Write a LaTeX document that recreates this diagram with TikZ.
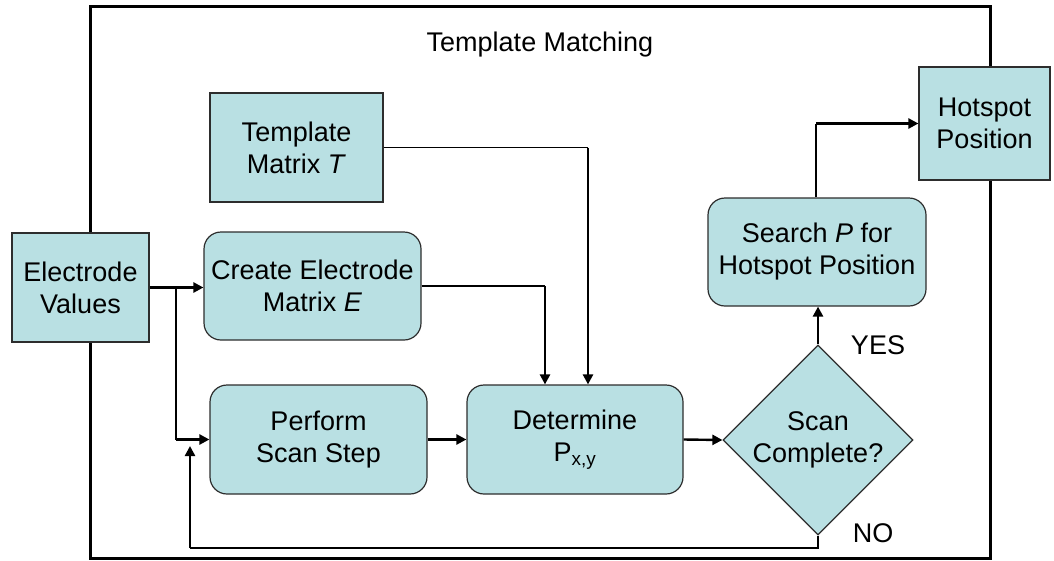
\documentclass[tikz,border=0pt]{standalone}
\usepackage{fontspec}
\setmainfont{Liberation Sans}
\usetikzlibrary{shapes.geometric,arrows.meta}
\definecolor{boxfill}{RGB}{185,224,227}
\definecolor{boxline}{RGB}{45,45,45}
\begin{document}
\begin{tikzpicture}[x=1pt,y=-1pt,
  every node/.style={font=\fontsize{27}{32}\selectfont, align=center},
  plainbox/.style={draw=boxline, fill=boxfill, line width=1.2pt, inner sep=0pt},
  roundbox/.style={plainbox, rounded corners=17pt},
  decision/.style={plainbox, diamond, aspect=1},
  thinline/.style={line width=1.3pt},
  thickline/.style={line width=2.4pt},
  flow/.style={thickline, -{Triangle[length=10pt,width=10pt]}}]
\useasboundingbox (0,0) rectangle (1054,560);

% outer frame of the template matching stage
\draw[line width=3pt] (90,6) rectangle (990,558);
\node (title) at (540,45) {Template Matching};

% blocks
\node[plainbox, minimum width=137pt, minimum height=109pt] (ev) at (80.5,287.5) {Electrode\\Values};
\node[plainbox, minimum width=173pt, minimum height=109pt] (tm) at (296.5,147.5) {Template\\Matrix \textit{T}};
\node[roundbox, minimum width=217pt, minimum height=108pt] (ce) at (312.5,286) {Create Electrode\\Matrix \textit{E}};
\node[roundbox, minimum width=217pt, minimum height=109pt] (ps) at (318.5,439.5) {Perform\\Scan Step};
\node[roundbox, minimum width=216pt, minimum height=109pt] (dp) at (575,439.5) {Determine\\P\textsubscript{x,y}};
\node[decision, minimum width=190pt, minimum height=190pt] (sc) at (818,440) {};
\node (sctext) at (sc.center) {Scan\\Complete?};
\node[roundbox, minimum width=218pt, minimum height=108pt] (sp) at (817,252) {Search \textit{P} for\\Hotspot Position};
\node[plainbox, minimum width=131pt, minimum height=113pt] (hp) at (984.5,123.5) {Hotspot\\Position};

% decision labels
\node (yes) at (878,345) {YES};
\node (no) at (873,533) {NO};

% routing points
\coordinate (split) at (176,287.5);
\coordinate (eDrop) at (545,286);
\coordinate (tDrop) at (588,147.5);
\coordinate (loopCorner) at (190,548);
\coordinate (loopEnd) at (190,446);
\coordinate (upTurn) at (816,123.5);

% connectors
\draw[flow] (ev.east) -- (ev.east -| ce.west);
\draw[thinline] (split) -- (split |- ps.west);
\draw[flow] (split |- ps.west) -- (ps.west);
\draw[thinline] (ce.east |- eDrop) -- (eDrop);
\draw[flow] (eDrop) -- (eDrop |- dp.north);
\draw[thinline] (tm.east |- tDrop) -- (tDrop);
\draw[flow] (tDrop) -- (tDrop |- dp.north);
\draw[flow] (ps.east) -- (dp.west);
\draw[flow] (dp.east) -- (sc.west);
\draw[flow] (sc.north) -- (sc.north |- sp.south);
\draw[thinline] (sp.north -| upTurn) -- (upTurn);
\draw[flow] (upTurn) -- (hp.west);
\draw[thinline] (sc.south) |- (loopCorner);
\draw[flow] (loopCorner) -- (loopEnd);
\end{tikzpicture}
\end{document}
